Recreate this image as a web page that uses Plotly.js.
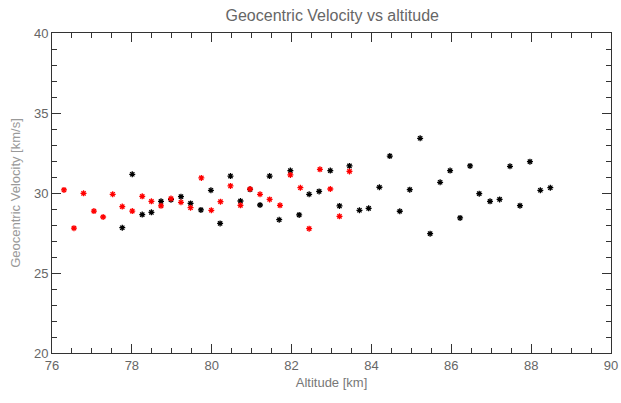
<!DOCTYPE html>
<html>
<head>
<meta charset="utf-8">
<script src="https://cdn.plot.ly/plotly-3.0.1.min.js"></script>
<style>html,body{margin:0;padding:0;background:#fff;}#chart{width:621px;height:403px;}</style>
</head>
<body>
<div id="chart"></div>
<script>
const blackAlt = [77.76,78.01,78.26,78.49,78.73,78.98,79.23,79.47,79.73,79.98,80.21,80.47,80.72,80.96,81.21,81.45,81.69,81.97,82.19,82.44,82.69,82.97,83.20,83.45,83.70,83.93,84.20,84.46,84.71,84.96,85.22,85.47,85.72,85.97,86.22,86.47,86.70,86.97,87.21,87.47,87.72,87.97,88.23,88.48];
const blackVel = [27.83,31.17,28.65,28.79,29.48,29.58,29.77,29.35,28.94,30.17,28.10,31.06,29.50,30.23,29.25,31.06,28.33,31.40,28.63,29.92,30.10,31.40,29.19,31.69,28.92,29.04,30.36,32.31,28.86,30.21,33.42,27.46,30.67,31.40,28.44,31.69,29.96,29.48,29.60,31.67,29.21,31.96,30.17,30.33];
const redAlt = [76.30,76.55,76.79,77.05,77.28,77.52,77.76,78.01,78.26,78.49,78.73,78.98,79.23,79.47,79.74,79.99,80.22,80.47,80.72,80.96,81.21,81.45,81.71,81.97,82.22,82.44,82.71,82.97,83.20,83.45];
const redVel = [30.19,27.80,29.98,28.87,28.50,29.92,29.15,28.87,29.79,29.48,29.20,29.65,29.42,29.08,30.94,28.92,29.46,30.44,29.23,30.25,29.92,29.60,29.23,31.13,30.33,27.77,31.48,30.25,28.54,31.35];
const xTicks = [76,78,80,82,84,86,88,90];
const yTicks = [20,25,30,35,40];

const mk = (c) => ({symbol:'asterisk-open', size:5, color:c, line:{color:c, width:1.3}});
const traces = [
  {x: blackAlt, y: blackVel, mode:'markers', type:'scatter', marker: mk('#000000'), showlegend:false},
  {x: redAlt, y: redVel, mode:'markers', type:'scatter', marker: mk('#ff0000'), showlegend:false}
];
const axisCommon = {
  showgrid:false, zeroline:false, showline:true, linecolor:'#333', linewidth:1,
  mirror:'ticks', ticks:'inside', ticklen:9, tickcolor:'#333', tickwidth:1,
  tickfont:{family:'Liberation Sans, sans-serif', size:13, color:'#666'}
};
const layout = {
  width:621, height:403,
  margin:{l:52, r:10, t:33, b:50},
  paper_bgcolor:'#fff', plot_bgcolor:'#fff',
  title:{text:'Geocentric Velocity vs altitude', x:0.535, xanchor:'center', y:0.962, yanchor:'middle',
         font:{family:'Liberation Sans, sans-serif', size:16, color:'#666'}},
  xaxis: Object.assign({}, axisCommon, {
    range:[76,90], tickmode:'array', tickvals:xTicks, ticktext:xTicks.map(String),
    minor:{dtick:0.5, ticks:'inside', ticklen:5, tickcolor:'#333', showgrid:false},
    title:{text:'Altitude [km]', standoff:6, font:{family:'Liberation Sans, sans-serif', size:13, color:'#777'}}
  }),
  yaxis: Object.assign({}, axisCommon, {
    range:[20,40], tickmode:'array', tickvals:yTicks, ticktext:yTicks.map(String),
    minor:{dtick:1, ticks:'inside', ticklen:5, tickcolor:'#333', showgrid:false},
    title:{text:'Geocentric Velocity [km/s]', standoff:10, font:{family:'Liberation Sans, sans-serif', size:13, color:'#999'}}
  })
};
Plotly.newPlot('chart', traces, layout, {displayModeBar:false, staticPlot:true});
</script>
</body>
</html>
